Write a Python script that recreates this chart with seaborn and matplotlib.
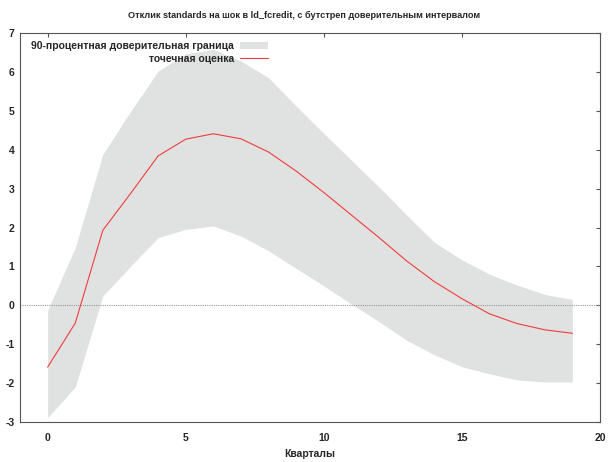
import matplotlib
matplotlib.use("Agg")
import matplotlib.pyplot as plt
import seaborn as sns
import pandas as pd

# impulse response data
quarters = list(range(20))
point_est = [-1.59, -0.46, 1.93, 2.87, 3.84, 4.27, 4.41, 4.28, 3.94, 3.45,
             2.90, 2.32, 1.74, 1.14, 0.61, 0.17, -0.22, -0.47, -0.63, -0.72]
upper_band = [-0.13, 1.48, 3.88, 4.98, 6.02, 6.46, 6.58, 6.28, 5.85, 5.12,
              4.42, 3.73, 3.04, 2.32, 1.62, 1.17, 0.80, 0.52, 0.28, 0.15]
lower_band = [-2.89, -2.10, 0.24, 1.00, 1.74, 1.95, 2.04, 1.78, 1.40, 0.95,
              0.50, 0.03, -0.42, -0.90, -1.27, -1.58, -1.76, -1.92, -1.97, -1.97]

x_ticks = [0, 5, 10, 15, 20]
y_ticks = [-3, -2, -1, 0, 1, 2, 3, 4, 5, 6, 7]

title = "Отклик standards на шок в ld_fcredit, с бутстреп доверительным интервалом"
x_label = "Кварталы"
band_label = "90-процентная доверительная граница"
line_label = "точечная оценка"

df = pd.DataFrame({"q": quarters, "est": point_est,
                   "hi": upper_band, "lo": lower_band})

sns.set_theme(style="white")
plt.rcParams["font.family"] = ["Liberation Sans", "DejaVu Sans"]
plt.rcParams["axes.unicode_minus"] = False

fig = plt.figure(figsize=(6.08, 4.62), dpi=100)
ax = fig.add_axes([20 / 608, 1 - 422 / 462, 580 / 608, 389 / 462])

ax.fill_between(df["q"], df["lo"], df["hi"], color="#e0e1e1",
                linewidth=0, label=band_label, zorder=1)
sns.lineplot(data=df, x="q", y="est", ax=ax, color="#f03c3c",
             linewidth=0.8, label=line_label, zorder=3)
ax.axhline(0, color="#999999", linestyle=(0, (1, 1)), linewidth=0.8, zorder=2)

ax.set_xlim(-1, 20)
ax.set_ylim(-3, 7)
ax.set_xticks(x_ticks)
ax.set_yticks(y_ticks)
ax.tick_params(direction="in", length=3, width=0.8, color="#555555",
               top=True, right=True, labelsize=7.5)
ax.tick_params(axis="x", pad=8)
ax.tick_params(axis="y", pad=4)
for lab in ax.get_xticklabels() + ax.get_yticklabels():
    lab.set_fontweight("bold")
for s in ax.spines.values():
    s.set_color("#555555")
    s.set_linewidth(0.8)

ax.set_xlabel(x_label, fontsize=7.5, fontweight="bold", labelpad=4)
ax.set_ylabel("")
fig.suptitle(title, fontsize=6.6, fontweight="bold", y=0.977)

leg = ax.legend(loc="upper left", bbox_to_anchor=(0.008, 0.995), frameon=False,
                markerfirst=False, fontsize=7.5, handlelength=2.7,
                handletextpad=0.6, labelspacing=0.25, borderaxespad=0.2)
for col in leg._legend_handle_box.get_children():
    col.align = "right"
for t in leg.get_texts():
    t.set_fontweight("bold")

fig.savefig("out.png", dpi=100)
plt.close(fig)
